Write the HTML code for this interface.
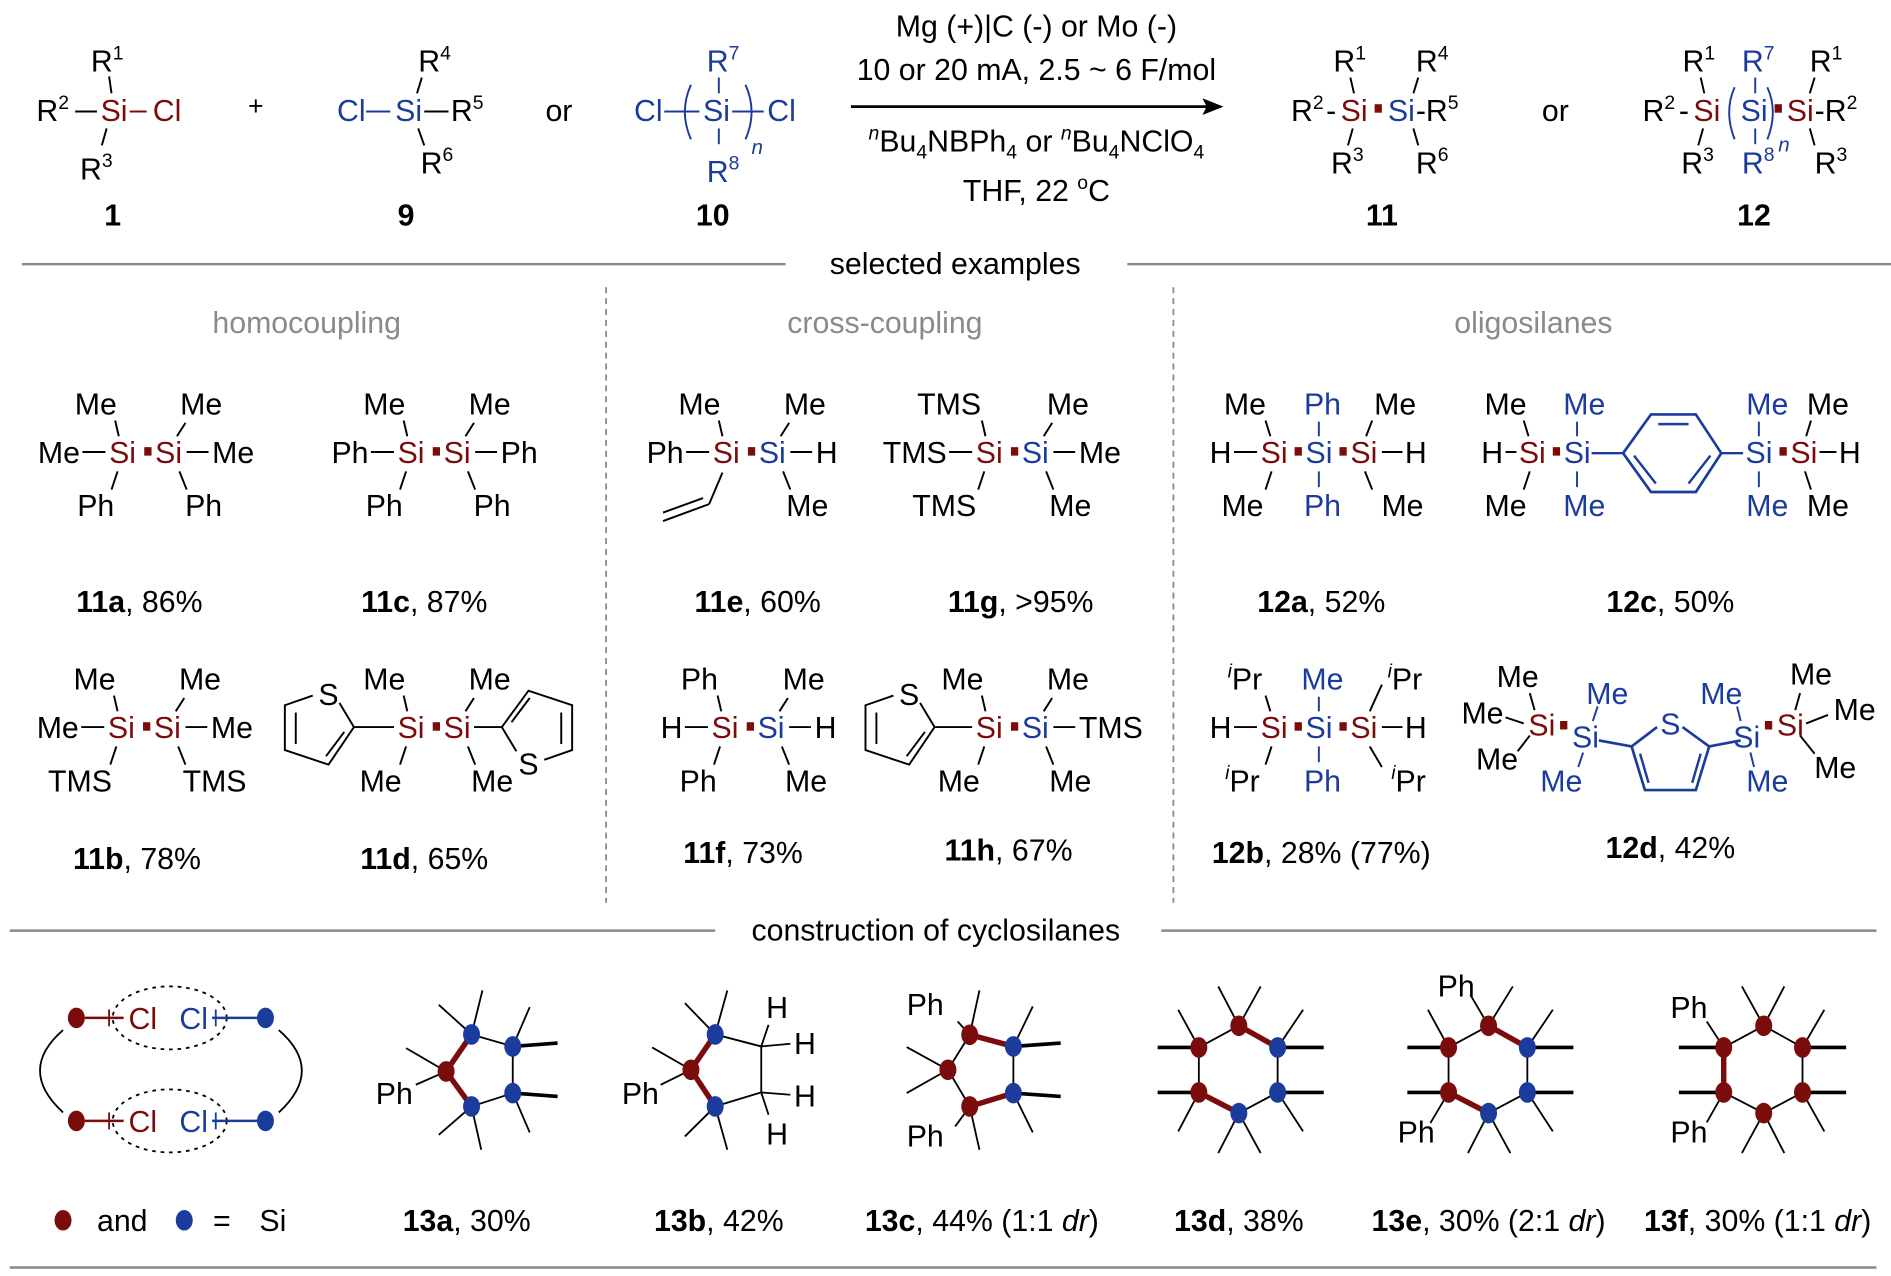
<!DOCTYPE html>
<html><head><meta charset="utf-8"><style>
body{margin:0;background:#fff}svg{display:block}
text{font-family:"Liberation Sans",Arial,sans-serif}
</style></head><body>
<svg id="s" width="1891" height="1276" viewBox="0 0 1560 1053" preserveAspectRatio="none" xmlns="http://www.w3.org/2000/svg"></svg>
<script>
const R='#7b0c0c',B='#1b3c9c',K='#000',G='#8a8a8a';
let s='';
function T(x,y,t,c,a,f,w){s+=`<text x="${x}" y="${y}" fill="${c||K}"${a?` text-anchor="${a}"`:''} font-size="${f||25}"${w?' font-weight="bold"':''}>${t}</text>`;}
function L(x1,y1,x2,y2,c,w){s+=`<line x1="${x1}" y1="${y1}" x2="${x2}" y2="${y2}" stroke="${c||K}" stroke-width="${w||1.6}"/>`;}
function SQ(x,y,c){s+=`<rect x="${x}" y="${y}" width="6" height="7" fill="${c||R}"/>`;}
function P(d,c,w,f){s+=`<path d="${d}" fill="${f||'none'}" stroke="${c||K}" stroke-width="${w||1.6}"/>`;}
const sup=t=>`<tspan dy="-10" font-size="16">${t}</tspan>`;
const ipr='<tspan dy="-10" font-size="16" font-style="italic">i</tspan><tspan dy="10">Pr</tspan>';
function lab(cx,y,b,r){T(cx,y,'<tspan font-weight="bold">'+b+'</tspan>'+r,K,'middle');}

/* ---------- header ---------- */
T(75,59,'R'+sup(1));L(90,63,92,77);
T(30,100,'R'+sup(2));L(62,92,80,92);T(83,100,'Si',R);L(107,92,121,92,R);T(126,100,'Cl',R);
L(88,106,84,120);T(66,148,'R'+sup(3));
T(211,95,'+',K,'middle',22);
T(345,59,'R'+sup(4));L(348,64,344,77);
T(278,100,'Cl',B);L(302,92,322,92,B);T(326,100,'Si',B);L(350,92,370,92);T(372,100,'R'+sup(5));
L(345,106,350,120);T(347,143,'R'+sup(6));
T(450,100,'or');
T(523,100,'Cl',B);L(548,92,577,92,B);P('M570,70 Q560,92 570,115',B);T(580,100,'Si',B);
L(593,64,593,77,B);L(593,106,593,119,B);P('M615,70 Q625,92 615,115',B);L(604,92,630,92,B);T(633,100,'Cl',B);
T(583,59,'R'+sup(7),B);T(583,150,'R'+sup(8),B);T(620,127,'<tspan font-style="italic">n</tspan>',B,0,17);
T(855,30,'Mg (+)|C (-) or Mo (-)',K,'middle');
T(855,66,'10 or 20 mA, 2.5 ~ 6 F/mol',K,'middle');
L(702,88,998,88,K,2.2);P('M1008,88 L993,82 L996,88 L993,94 Z',K,1,K);
const sub4='<tspan font-size="16" dy="6">4</tspan>';
T(855,125,'<tspan font-size="16" font-style="italic" dy="-10">n</tspan><tspan dy="10">Bu</tspan>'+sub4+'<tspan dy="-6">NBPh</tspan>'+sub4+'<tspan dy="-6"> or </tspan><tspan font-size="16" font-style="italic" dy="-10">n</tspan><tspan dy="10">Bu</tspan>'+sub4+'<tspan dy="-6">NClO</tspan>'+sub4,K,'middle');
T(855,166,'THF, 22 <tspan dy="-10" font-size="16">o</tspan><tspan dy="10">C</tspan>',K,'middle');
T(1100,59,'R'+sup(1));T(1168,59,'R'+sup(4));L(1114,64,1117,77);L(1170,64,1166,77);
T(1065,100,'R'+sup(2));T(1094,100,'-');T(1106,100,'Si',R);SQ(1134,86);T(1145,100,'Si',B);T(1168,100,'-R'+sup(5));
L(1116,106,1112,120);L(1166,106,1170,120);T(1098,143,'R'+sup(3));T(1168,143,'R'+sup(6));
T(1272,100,'or');
T(1388,59,'R'+sup(1));T(1437,59,'R'+sup(7),B);T(1493,59,'R'+sup(1));
L(1403,64,1406,77);L(1448,64,1448,77,B);L(1497,64,1493,77);
T(1355,100,'R'+sup(2));T(1385,100,'-');T(1397,100,'Si',R);P('M1431,72 Q1422,92 1431,115',B);T(1436,100,'Si',B);
P('M1458,72 Q1467,92 1458,115',B);SQ(1464,86);T(1474,100,'Si',R);T(1497,100,'-R'+sup(2));
L(1405,106,1401,120);L(1448,106,1448,119,B);L(1493,106,1497,120);
T(1387,143,'R'+sup(3));T(1437,143,'R'+sup(8),B);T(1497,143,'R'+sup(3));
T(1467,125,'<tspan font-style="italic">n</tspan>',B,0,17);
[[93,'1'],[335,'9'],[588,'10'],[1140,'11'],[1447,'12']].forEach(a=>T(a[0],186,a[1],K,'middle',25,1));

/* separators */
L(18,218,648,218,G,2);L(930,218,1560,218,G,2);T(788,226,'selected examples',K,'middle');
T(253,275,'homocoupling',G,'middle');T(730,275,'cross-coupling',G,'middle');T(1265,275,'oligosilanes',G,'middle');
s+=`<line x1="500" y1="237" x2="500" y2="745" stroke="${G}" stroke-width="1.5" stroke-dasharray="5,4"/>`;
s+=`<line x1="968" y1="237" x2="968" y2="745" stroke="${G}" stroke-width="1.5" stroke-dasharray="5,4"/>`;
L(8,768,590,768,G,2);L(958,768,1548,768,G,2);T(772,776,'construction of cyclosilanes',K,'middle');
L(8,1046,1548,1046,G,2);

/* ---------- disilanes ---------- */
function di(X,Y,o){
 if(o.l){T(X-24,Y,o.l,K,'end');L(X-22,Y-9,X-3,Y-9);}
 T(X,Y,'Si',o.c1||R);SQ(X+29,Y-13);T(X+38,Y,'Si',o.c2||R);
 if(o.r){L(X+64,Y-9,X+82,Y-9);T(X+85,Y,o.r);}
 if(o.tl){L(X+5,Y-35,X+8,Y-22);T(X+(o.tlx||-11),Y-40,o.tl,K,'middle');}
 if(o.tr){L(X+63,Y-33,X+56,Y-22);T(X+(o.trx||76),Y-40,o.tr,K,'middle');}
 if(o.bl){L(X+7,Y+7,X+2,Y+22);T(X+(o.blx||-11),Y+44,o.bl,K,'middle');}
 if(o.br){L(X+58,Y+7,X+64,Y+22);T(X+(o.brx||78),Y+44,o.br,K,'middle');}
}
di(90,382,{l:'Me',r:'Me',tl:'Me',tr:'Me',bl:'Ph',br:'Ph'});
di(328,382,{l:'Ph',r:'Ph',tl:'Me',tr:'Me',bl:'Ph',br:'Ph'});
di(89,609,{l:'Me',r:'Me',tl:'Me',tr:'Me',bl:'TMS',br:'TMS',blx:-23,brx:88});
di(328,609,{tl:'Me',tr:'Me',bl:'Me',br:'Me',blx:-14});
di(588,382,{l:'Ph',r:'H',tl:'Me',tr:'Me',br:'Me',c2:B});
L(596,390,585,416);L(585,416,547,430);L(547,423,580,411);
di(805,382,{l:'TMS',r:'Me',tl:'TMS',tr:'Me',bl:'TMS',br:'Me',c2:B,tlx:-22,blx:-26});
di(587,609,{l:'H',r:'H',tl:'Ph',tr:'Me',bl:'Ph',br:'Me',c2:B,tlx:-10});
di(805,609,{r:'TMS',tl:'Me',tr:'Me',bl:'Me',br:'Me',c2:B,blx:-14});
/* thiophenes */
function thioL(c2x,y){
 const C2=[c2x,y],C3=[c2x-21,y+31],C4=[c2x-57,y+19],C5=[c2x-57,y-18];
 P(`M${C2} L${C3} L${C4} L${C5} L${c2x-34},${y-26}`);P(`M${c2x-12},${y-20} L${C2}`);
 L(c2x-48,y-12,c2x-48,y+14);L(c2x-8,y+4,c2x-23,y+24);
 T(c2x-21,y-18,'S',K,'middle');
}
thioL(292,600);L(292,600,325,600);
thioL(771,600);L(771,600,802,600);
(function(){const y=600,x=414;
 P(`M${x},${y} L${x+22},${y-30} L${x+58},${y-18} L${x+58},${y+19} L${x+35},${y+27}`);P(`M${x+12},${y+20} L${x},${y}`);
 L(x+49,y-12,x+49,y+14);L(x+8,y-4,x+23,y-24);T(x+22,y+39,'S',K,'middle');L(391,600,414,600);
})();

/* trisilanes */
function tri(X,Y,o){
 L(X-22,Y-9,X-3,Y-9);T(X-24,Y,'H',K,'end');
 T(X,Y,'Si',R);SQ(X+28,Y-13);T(X+37,Y,'Si',B);SQ(X+65,Y-13);T(X+74,Y,'Si',R);
 L(X+100,Y-9,X+117,Y-9);T(X+119,Y,'H');
 L(X+48,Y-34,X+48,Y-22,B);L(X+48,Y+7,X+48,Y+20,B);
 T(X+51,Y-40,o.tm,B,'middle');T(X+51,Y+44,o.bm,B,'middle');
 L(X+4,Y-35,X+8,Y-22);L(X+9,Y+7,X+4,Y+22);
 if(o.ipr){L(X+90,Y-22,X+100,Y-44);L(X+90,Y+7,X+100,Y+24);}
 else{L(X+92,Y-35,X+87,Y-22);L(X+86,Y+7,X+92,Y+22);}
 T(X-13,Y-40,o.tl,K,'middle');T(X+(o.ipr?119:111),Y-40,o.tr,K,'middle');
 T(X-15,Y+44,o.bl,K,'middle');T(X+(o.ipr?122:117),Y+44,o.br,K,'middle');
}
tri(1040,382,{tm:'Ph',bm:'Ph',tl:'Me',tr:'Me',bl:'Me',br:'Me'});
tri(1040,609,{ipr:1,tm:'Me',bm:'Ph',tl:ipr,tr:ipr,bl:ipr,br:ipr});

/* 12c */
(function(){const Y=382;
 T(1240,Y,'H',K,'end');L(1242,Y-9,1251,Y-9);T(1253,Y,'Si',R);SQ(1281,Y-13);T(1290,Y,'Si',B);
 L(1313,Y-8,1339,Y-8,B,2);
 P('M1339,374 L1362,342 L1399,342 L1420,374 L1399,406 L1362,406 Z',B,2.2);
 L(1368,350,1393,350,B,2);L(1348,376,1366,399,B,2);L(1411,376,1393,399,B,2);
 L(1420,374,1438,374,B,2);T(1440,Y,'Si',B);SQ(1468,Y-13);T(1477,Y,'Si',R);L(1501,Y-9,1515,Y-9);T(1517,Y,'H');
 L(1257,Y-35,1261,Y-22);L(1262,Y+7,1257,Y+22);T(1242,Y-40,'Me',K,'middle');T(1242,Y+44,'Me',K,'middle');
 L(1301,Y-34,1301,Y-22,B);L(1301,Y+7,1301,Y+20,B);T(1307,Y-40,'Me',B,'middle');T(1307,Y+44,'Me',B,'middle');
 L(1451,Y-34,1451,Y-22,B);L(1451,Y+7,1451,Y+20,B);T(1458,Y-40,'Me',B,'middle');T(1458,Y+44,'Me',B,'middle');
 L(1494,Y-35,1490,Y-22);L(1489,Y+7,1494,Y+22);T(1508,Y-40,'Me',K,'middle');T(1508,Y+44,'Me',K,'middle');
})();
/* 12d */
T(1272,607,'Si',R,'middle');T(1308,617,'Si',B,'middle');SQ(1287,595);
T(1441,617,'Si',B,'middle');T(1477,607,'Si',R,'middle');SQ(1456,595);
T(1252,567,'Me',K,'middle');T(1223,597,'Me',K,'middle');T(1235,635,'Me',K,'middle');
T(1494,565,'Me',K,'middle');T(1530,594,'Me',K,'middle');T(1514,642,'Me',K,'middle');
T(1326,581,'Me',B,'middle');T(1288,653,'Me',B,'middle');T(1420,581,'Me',B,'middle');T(1458,653,'Me',B,'middle');
L(1266,586,1262,572);L(1242,592,1257,597);L(1262,607,1252,620);
L(1314,595,1318,583,B);L(1306,621,1302,633,B);L(1436,595,1433,583,B);L(1444,621,1447,633,B);
L(1481,586,1485,572);L(1490,597,1508,590);L(1485,607,1497,622);
P('M1319,611 L1346,616 L1357,652 L1399,652 L1410,616 L1436,611',B,2.2);
P('M1346,616 L1367,600 M1388,600 L1410,616',B,2.2);
L(1353,622,1360,646,B,2);L(1403,622,1396,646,B,2);
T(1378,606,'S',B,'middle');

/* labels */
lab(115,505,'11a',', 86%');lab(350,505,'11c',', 87%');lab(625,505,'11e',', 60%');lab(842,505,'11g',', &gt;95%');
lab(1090,505,'12a',', 52%');lab(1378,505,'12c',', 50%');
lab(113,717,'11b',', 78%');lab(350,717,'11d',', 65%');lab(613,712,'11f',', 73%');lab(832,710,'11h',', 67%');
lab(1090,712,'12b',', 28% (77%)');lab(1378,708,'12d',', 42%');

/* ---------- cyclosilanes ---------- */
const Yz=z=>z/3.636+783.8;
function dot(x,y,c){s+=`<ellipse cx="${x}" cy="${y}" rx="7" ry="8.5" fill="${c}"/>`;}
function ring(nodes,thin,thick,subs){
 const N=nodes.map(n=>[n[0],Yz(n[1]),n[2]]);
 thin.forEach(e=>L(N[e[0]][0],N[e[0]][1],N[e[1]][0],N[e[1]][1],K,1.5));
 thick.forEach(e=>L(N[e[0]][0],N[e[0]][1],N[e[1]][0],N[e[1]][1],R,4.5));
 subs.forEach(u=>L(N[u[0]][0],N[u[0]][1],u[1],Yz(u[2]),K,u[3]?3:1.5));
 N.forEach(n=>{if(n[2])dot(n[0],n[1],n[2]);});
}
ring([[389,254,B],[423,290,B],[368,365,R],[423,430,B],[389,470,B]],[[0,1],[1,3],[3,4]],[[2,0],[2,4]],
 [[0,398,122],[0,362,165],[1,437,172],[1,460,280,1],[2,335,295],[2,343,405],[3,460,440,1],[3,437,548],[4,362,555],[4,397,600]]);
T(310,Yz(462),'Ph');
ring([[590,254,B],[570,360,R],[590,470,B],[628,290,0],[628,428,0]],[[0,3],[3,4],[4,2]],[[1,0],[1,2]],
 [[0,600,122],[0,565,160],[1,538,293],[1,545,405],[2,565,560],[2,600,600],[3,634,225],[3,652,282],[4,652,435],[4,634,495]]);
T(513,Yz(462),'Ph');T(632,Yz(205),'H');T(655,Yz(312),'H');T(655,Yz(470),'H');T(632,Yz(585),'H');
ring([[800,255,R],[836,290,B],[782,360,R],[836,430,B],[800,470,R]],[[0,2],[2,4],[1,3]],[[0,1],[4,3]],
 [[0,808,122],[0,790,215],[1,852,170],[1,875,280,1],[2,748,292],[2,748,430],[3,875,440,1],[3,852,548],[4,788,530],[4,808,600]]);
T(748,Yz(195),'Ph');T(748,Yz(590),'Ph');
function hex(cx,cols,thick,subs){
 const n=[[cx,228],[cx+32,293],[cx+32,428],[cx,490],[cx-33,428],[cx-33,293]].map((p,i)=>[p[0],p[1],cols[i]]);
 const th=[[0,1],[1,2],[2,3],[3,4],[4,5],[5,0]].filter(e=>!thick.some(t=>t[0]==e[0]&&t[1]==e[1]));
 ring(n,th,thick,subs);
}
hex(1022,[R,B,B,B,R,R],[[0,1],[3,4]],
 [[0,1005,110],[0,1040,110],[1,1075,180],[1,1092,293,1],[2,1092,428,1],[2,1075,545],[3,1005,610],[3,1040,610],[4,955,428,1],[4,972,545],[5,955,293,1],[5,972,180]]);
hex(1228,[R,B,B,B,R,R],[[0,1],[3,4]],
 [[0,1213,135],[0,1248,110],[1,1281,180],[1,1298,293,1],[2,1298,428,1],[2,1281,545],[3,1211,610],[3,1246,610],[4,1161,428,1],[4,1180,520],[5,1161,293,1],[5,1178,180]]);
T(1186,Yz(140),'Ph');T(1153,Yz(578),'Ph');
hex(1455,[R,R,R,R,R,R],[[4,5]],
 [[0,1437,110],[0,1472,110],[1,1505,180],[1,1523,293,1],[2,1523,428,1],[2,1505,545],[3,1437,610],[3,1472,610],[4,1385,428,1],[4,1408,518],[5,1385,293,1],[5,1408,215]]);
T(1378,Yz(205),'Ph');T(1378,Yz(578),'Ph');

/* schematic */
[840,925].forEach(y=>{
 s+=`<ellipse cx="140" cy="${y}" rx="47" ry="26" fill="none" stroke="${K}" stroke-width="1.5" stroke-dasharray="3,4"/>`;
 L(70,y,102,y,R,2);L(90,y-7,90,y+7,R,1.5);T(106,y+9,'Cl',R);T(148,y+9,'Cl',B);
 L(175,y,212,y,B,2);L(178,y-7,178,y+7,B,1.5);dot(63,y,R);dot(219,y,B);
});
P('M52,850 Q14,883 52,918',K,1.5);P('M230,850 Q268,883 230,918',K,1.5);
dot(52,1007,R);T(80,1016,'and');dot(152,1007,B);T(183,1016,'=',K,'middle');T(214,1016,'Si');
lab(385,1016,'13a',', 30%');lab(593,1016,'13b',', 42%');
lab(810,1016,'13c',', 44% (1:1 <tspan font-style="italic">dr</tspan>)');
lab(1022,1016,'13d',', 38%');lab(1228,1016,'13e',', 30% (2:1 <tspan font-style="italic">dr</tspan>)');
lab(1450,1016,'13f',', 30% (1:1 <tspan font-style="italic">dr</tspan>)');

document.getElementById('s').innerHTML=s;
</script>
</body></html>
